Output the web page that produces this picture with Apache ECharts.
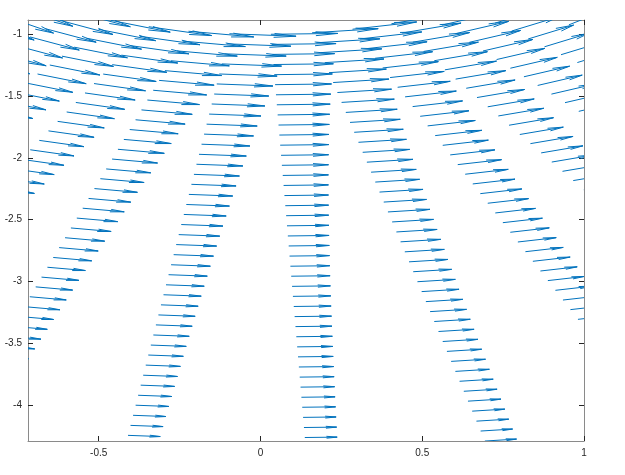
<!DOCTYPE html>
<html>
<head>
<meta charset="utf-8">
<script src="https://cdn.jsdelivr.net/npm/echarts@6/dist/echarts.min.js"></script>
<style>
html,body{margin:0;padding:0;background:#fff;}
#chart{width:625px;height:475px;}
</style>
</head>
<body>
<div id="chart"></div>
<script>
// Polar sampling grid (rings and spokes)
const ringRadius = [1.000,1.082,1.163,1.245,1.327,1.408,1.490,1.571,1.653,1.735,1.816,1.898,1.980,2.061,2.143,2.224,2.306,2.388,2.469,2.551,2.633,2.714,2.796,2.878,2.959,3.041,3.122,3.204,3.286,3.367,3.449,3.531,3.612,3.694,3.776,3.857,3.939,4.020,4.102,4.184,4.265,4.347,4.429];
// arrow length (data units) on each ring
const ringSpeed = [0.207,0.199,0.192,0.1855,0.1797,0.1745,0.1696,0.1652,0.1610,0.1572,0.1536,0.1503,0.1471,0.1442,0.1414,0.1388,0.1363,0.1340,0.1317,0.1296,0.1276,0.1257,0.1238,0.1220,0.1203,0.1187,0.1172,0.1156,0.1142,0.1128,0.1115,0.1102,0.1089,0.1077,0.1065,0.1054,0.1043,0.1032,0.1022,0.1012,0.1002,0.0993,0.0984];
// spoke angles in degrees
const spokeAngleDeg = [220.41,227.76,235.10,242.45,249.80,257.14,264.49,271.84,279.18,286.53,293.88,301.22,308.57,315.92,323.27];

const xTicks = [-0.5, 0, 0.5, 1];
const yTicks = [-4, -3.5, -3, -2.5, -2, -1.5, -1];
const xRange = [-0.7186, 1.0];
const yRange = [-4.291, -0.884];

// build quiver rows [x, y, u, v]
const arrows = [];
for (let j = 0; j < spokeAngleDeg.length; j++) {
  const t = spokeAngleDeg[j] * Math.PI / 180;
  for (let i = 0; i < ringRadius.length; i++) {
    const r = ringRadius[i], L = ringSpeed[i];
    arrows.push([r * Math.cos(t), r * Math.sin(t), -L * Math.sin(t), L * Math.cos(t)]);
  }
}

const chart = echarts.init(document.getElementById('chart'), null, {renderer: 'canvas'});
const AX = '#262626';
const axisCommon = {
  axisLine: {show: true, onZero: false, lineStyle: {color: '#8a8a8a', width: 1}},
  splitLine: {show: false}
};
const alpha = 0.33, beta = 0.23;
chart.setOption({
  animation: false,
  grid: {left: 28, right: 41, top: 20, bottom: 34, containLabel: false},
  xAxis: [
    Object.assign({type: 'value', position: 'bottom', min: xRange[0], max: xRange[1],
      axisTick: {show: true, inside: true, length: 5, customValues: xTicks, lineStyle: {color: AX}},
      axisLabel: {show: true, customValues: xTicks, margin: 7, color: AX, fontFamily: 'Liberation Sans', fontSize: 10,
        formatter: v => String(v)}}, axisCommon),
    Object.assign({type: 'value', position: 'top', min: xRange[0], max: xRange[1],
      axisTick: {show: true, inside: true, length: 5, customValues: xTicks, lineStyle: {color: AX}},
      axisLabel: {show: false}}, axisCommon)
  ],
  yAxis: [
    Object.assign({type: 'value', position: 'left', min: yRange[0], max: yRange[1],
      axisTick: {show: true, inside: true, length: 5, customValues: yTicks, lineStyle: {color: AX}},
      axisLabel: {show: true, customValues: yTicks, margin: 6, color: AX, fontFamily: 'Liberation Sans', fontSize: 10,
        formatter: v => String(v)}}, axisCommon),
    Object.assign({type: 'value', position: 'right', min: yRange[0], max: yRange[1],
      axisTick: {show: true, inside: true, length: 5, customValues: yTicks, lineStyle: {color: AX}},
      axisLabel: {show: false}}, axisCommon)
  ],
  series: [{
    type: 'custom',
    xAxisIndex: 0, yAxisIndex: 0,
    clip: true,
    data: arrows,
    encode: {x: 0, y: 1},
    renderItem: function (params, api) {
      const x = api.value(0), y = api.value(1), u = api.value(2), v = api.value(3);
      const p0 = api.coord([x, y]);
      const p1 = api.coord([x + u, y + v]);
      const h1 = api.coord([x + u - alpha * (u + beta * v), y + v - alpha * (v - beta * u)]);
      const h2 = api.coord([x + u - alpha * (u - beta * v), y + v - alpha * (v + beta * u)]);
      const st = {stroke: '#0072BD', lineWidth: 1, fill: null};
      return {
        type: 'group',
        children: [
          {type: 'polyline', shape: {points: [p0, p1]}, style: st},
          {type: 'polyline', shape: {points: [h1, p1, h2]}, style: st}
        ]
      };
    }
  }]
});
</script>
</body>
</html>
